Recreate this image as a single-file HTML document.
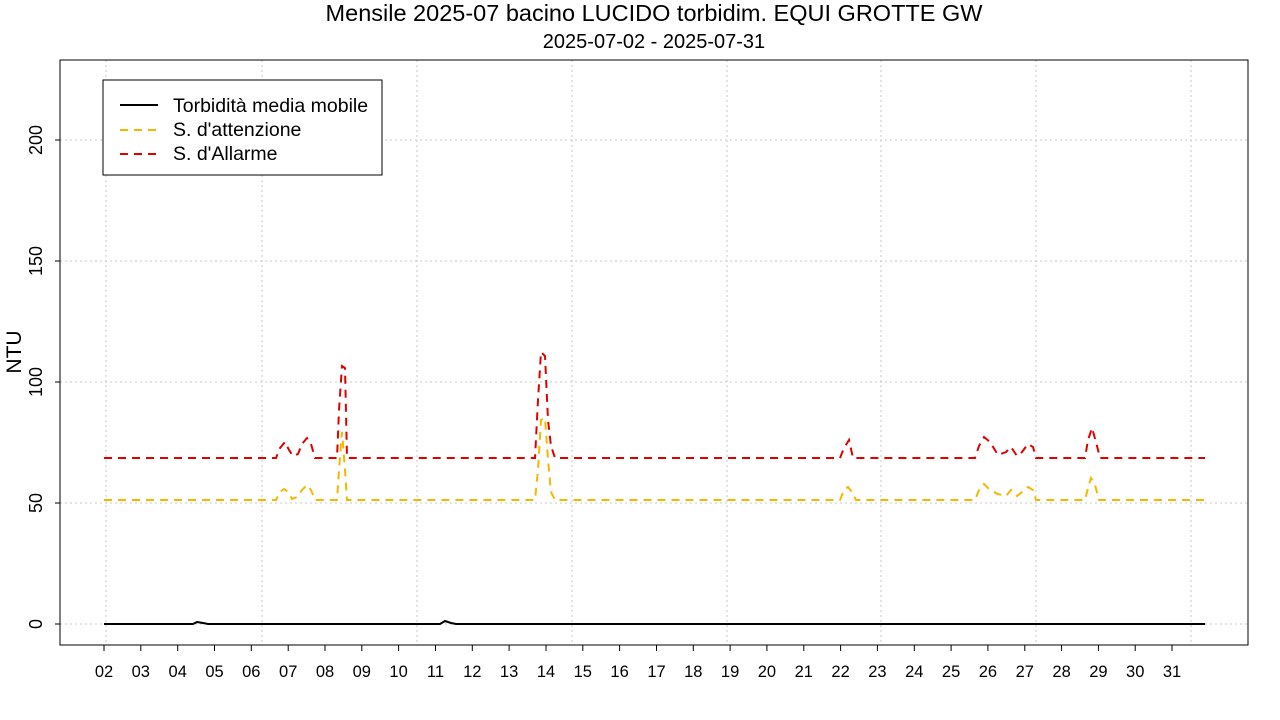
<!DOCTYPE html>
<html><head><meta charset="utf-8"><style>
html,body{margin:0;padding:0;background:#fff;}
svg{display:block;font-family:"Liberation Sans",sans-serif;}
</style></head><body>
<svg width="1280" height="720" viewBox="0 0 1280 720">
<rect width="1280" height="720" fill="#fff"/>
<text x="654" y="21" font-size="23.5" text-anchor="middle">Mensile 2025-07 bacino LUCIDO torbidim. EQUI GROTTE GW</text>
<text x="654" y="48" font-size="20" text-anchor="middle">2025-07-02 - 2025-07-31</text>
<g stroke="#c8c8c8" stroke-width="1" stroke-dasharray="2,3">
<line x1="60" x2="1248" y1="624" y2="624"/><line x1="60" x2="1248" y1="503" y2="503"/><line x1="60" x2="1248" y1="382" y2="382"/><line x1="60" x2="1248" y1="261" y2="261"/><line x1="60" x2="1248" y1="140" y2="140"/>
<line x1="106" x2="106" y1="60" y2="645"/><line x1="262" x2="262" y1="60" y2="645"/><line x1="417" x2="417" y1="60" y2="645"/><line x1="572" x2="572" y1="60" y2="645"/><line x1="727" x2="727" y1="60" y2="645"/><line x1="881" x2="881" y1="60" y2="645"/><line x1="1036" x2="1036" y1="60" y2="645"/><line x1="1191" x2="1191" y1="60" y2="645"/>
</g>
<rect x="60" y="60" width="1188" height="585" fill="none" stroke="#000"/>
<g stroke="#000">
<line x1="55" x2="60" y1="624" y2="624"/><line x1="55" x2="60" y1="503" y2="503"/><line x1="55" x2="60" y1="382" y2="382"/><line x1="55" x2="60" y1="261" y2="261"/><line x1="55" x2="60" y1="140" y2="140"/>
</g>
<g font-size="18" text-anchor="middle">
<text transform="translate(42,624) rotate(-90)">0</text>
<text transform="translate(42,503) rotate(-90)">50</text>
<text transform="translate(42,382) rotate(-90)">100</text>
<text transform="translate(42,261) rotate(-90)">150</text>
<text transform="translate(42,140) rotate(-90)">200</text>
<text transform="translate(21,352) rotate(-90)" font-size="21">NTU</text>
</g>
<g stroke="#000">
<line x1="104" x2="104" y1="645" y2="651"/><line x1="140.8" x2="140.8" y1="645" y2="651"/><line x1="177.7" x2="177.7" y1="645" y2="651"/><line x1="214.5" x2="214.5" y1="645" y2="651"/><line x1="251.3" x2="251.3" y1="645" y2="651"/><line x1="288.2" x2="288.2" y1="645" y2="651"/><line x1="325" x2="325" y1="645" y2="651"/><line x1="361.8" x2="361.8" y1="645" y2="651"/><line x1="398.6" x2="398.6" y1="645" y2="651"/><line x1="435.5" x2="435.5" y1="645" y2="651"/><line x1="472.3" x2="472.3" y1="645" y2="651"/><line x1="509.1" x2="509.1" y1="645" y2="651"/><line x1="546" x2="546" y1="645" y2="651"/><line x1="582.8" x2="582.8" y1="645" y2="651"/><line x1="619.6" x2="619.6" y1="645" y2="651"/><line x1="656.5" x2="656.5" y1="645" y2="651"/><line x1="693.3" x2="693.3" y1="645" y2="651"/><line x1="730.1" x2="730.1" y1="645" y2="651"/><line x1="766.9" x2="766.9" y1="645" y2="651"/><line x1="803.8" x2="803.8" y1="645" y2="651"/><line x1="840.6" x2="840.6" y1="645" y2="651"/><line x1="877.4" x2="877.4" y1="645" y2="651"/><line x1="914.3" x2="914.3" y1="645" y2="651"/><line x1="951.1" x2="951.1" y1="645" y2="651"/><line x1="987.9" x2="987.9" y1="645" y2="651"/><line x1="1024.8" x2="1024.8" y1="645" y2="651"/><line x1="1061.6" x2="1061.6" y1="645" y2="651"/><line x1="1098.4" x2="1098.4" y1="645" y2="651"/><line x1="1135.2" x2="1135.2" y1="645" y2="651"/><line x1="1172" x2="1172" y1="645" y2="651"/>
</g>
<g font-size="16.5" text-anchor="middle">
<text x="104" y="677">02</text><text x="140.8" y="677">03</text><text x="177.7" y="677">04</text><text x="214.5" y="677">05</text><text x="251.3" y="677">06</text><text x="288.2" y="677">07</text><text x="325" y="677">08</text><text x="361.8" y="677">09</text><text x="398.6" y="677">10</text><text x="435.5" y="677">11</text><text x="472.3" y="677">12</text><text x="509.1" y="677">13</text><text x="546" y="677">14</text><text x="582.8" y="677">15</text><text x="619.6" y="677">16</text><text x="656.5" y="677">17</text><text x="693.3" y="677">18</text><text x="730.1" y="677">19</text><text x="766.9" y="677">20</text><text x="803.8" y="677">21</text><text x="840.6" y="677">22</text><text x="877.4" y="677">23</text><text x="914.3" y="677">24</text><text x="951.1" y="677">25</text><text x="987.9" y="677">26</text><text x="1024.8" y="677">27</text><text x="1061.6" y="677">28</text><text x="1098.4" y="677">29</text><text x="1135.2" y="677">30</text><text x="1172" y="677">31</text>
</g>
<g fill="none" stroke-width="2" stroke-dasharray="8,6">
<polyline stroke="#f5b800" points="104,500 276,500 280,492 284,489 288,492 292,499 297,497 302,490 307,485 311,490 315,500 337,500 339,470 342,432 345,470 347,500 535,500 538,470 541,420 545,418 548,460 551,492 555,500 840,500 844,490 848,487 852,492 856,500 975,500 979,490 984,484 990,490 998,494 1006,496 1011,490 1017,496 1022,492 1028,487 1033,490 1036,500 1085,500 1088,488 1091,478 1095,485 1099,500 1205,500"/>
<polyline stroke="#e00000" points="104,458 276,458 280,448 285,442 289,450 293,456 298,454 302,444 307,438 311,444 315,458 337,458 339,410 342,366 345,368 347,458 535,458 538,400 541,352 545,356 548,420 551,446 555,458 840,458 844,448 849,440 853,458 975,458 979,446 984,437 990,442 998,455 1006,452 1011,447 1017,456 1022,452 1028,444 1033,447 1036,458 1085,458 1088,440 1092,428 1096,442 1100,458 1205,458"/>
</g>
<polyline fill="none" stroke="#000" stroke-width="2" points="104,624 193,624 197,622 203,623 208,624 440,624 445,621 451,623 456,624 1205,624"/>
<rect x="103" y="80" width="279" height="95" fill="#fff" stroke="#000"/>
<line x1="120" x2="158" y1="105" y2="105" stroke="#000" stroke-width="2"/>
<line x1="120" x2="158" y1="130" y2="130" stroke="#f5b800" stroke-width="2" stroke-dasharray="8,6"/>
<line x1="120" x2="158" y1="154" y2="154" stroke="#e00000" stroke-width="2" stroke-dasharray="8,6"/>
<g font-size="19.5">
<text x="173" y="112">Torbidità media mobile</text>
<text x="173" y="136">S. d'attenzione</text>
<text x="173" y="160">S. d'Allarme</text>
</g>
</svg>
</body></html>
